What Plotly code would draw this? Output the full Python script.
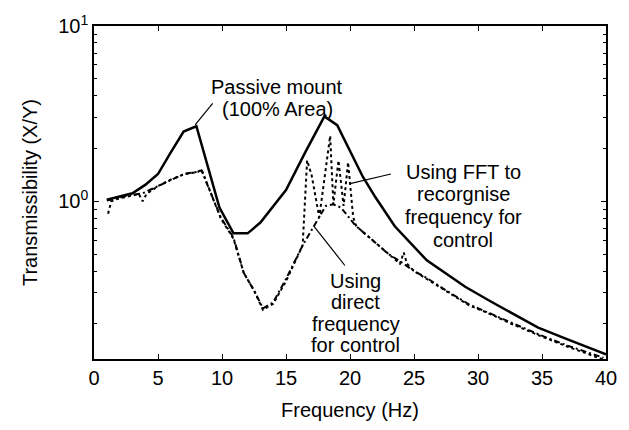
import plotly.graph_objects as go

# Passive mount (100% area) - solid
freq_passive = [1.0, 2.0, 3.0, 4.0, 5.0, 6.0, 7.0, 8.0, 9.8, 10.9, 12.0, 13.0, 14.0, 15.0,
                16.5, 18.0, 19.0, 20.0, 21.0, 22.0, 23.5, 26.0, 29.0, 31.0, 32.6, 34.7, 37.0, 40.0]
trans_passive = [1.02, 1.06, 1.11, 1.24, 1.43, 1.9, 2.5, 2.68, 0.92, 0.656, 0.656, 0.756, 0.93, 1.16,
                 1.9, 3.05, 2.72, 1.95, 1.38, 1.05, 0.72, 0.46, 0.325, 0.268, 0.23, 0.19, 0.163, 0.134]

# Using direct frequency for control - dash-dot
freq_direct = [1.0, 2.0, 3.0, 3.8, 5.0, 6.0, 7.1, 8.1, 8.4, 9.9, 10.9, 11.7, 12.5, 13.2, 14.0, 15.0,
               16.3, 17.2, 18.1, 18.7, 19.3, 20.4, 21.1, 22.0, 23.0, 24.0, 25.0, 26.0, 27.5, 29.3,
               31.1, 32.6, 34.9, 37.0, 39.8]
trans_direct = [1.01, 1.05, 1.09, 1.11, 1.22, 1.33, 1.44, 1.47, 1.50, 0.81, 0.62, 0.39, 0.31, 0.245,
                0.265, 0.36, 0.56, 0.725, 0.94, 0.96, 0.92, 0.73, 0.66, 0.58, 0.50, 0.45, 0.40, 0.365,
                0.31, 0.258, 0.226, 0.203, 0.172, 0.150, 0.128]

# Using FFT to recognise frequency for control - dotted
freq_fft = [1.1, 1.35, 1.8, 3.0, 3.5, 3.8, 4.1, 5.0, 6.0, 7.1, 8.1, 8.4, 9.9, 10.9, 11.7, 12.5, 13.2,
            14.0, 15.0, 16.3, 16.65, 17.0, 17.6, 18.45, 18.7, 19.1, 19.5, 19.85, 20.25, 20.5, 21.1,
            22.0, 23.0, 23.9, 24.2, 24.45, 25.0, 26.0, 27.5, 29.3, 31.1, 32.6, 34.9, 37.0, 39.8]
trans_fft = [0.85, 1.0, 1.03, 1.08, 1.10, 1.0, 1.10, 1.22, 1.33, 1.43, 1.47, 1.52, 0.80, 0.61, 0.39,
             0.31, 0.24, 0.26, 0.35, 0.56, 1.71, 1.41, 0.81, 2.36, 0.96, 1.71, 0.94, 1.67, 0.81, 0.72,
             0.66, 0.58, 0.50, 0.44, 0.51, 0.44, 0.40, 0.36, 0.31, 0.255, 0.225, 0.20, 0.17, 0.148, 0.125]

x_ticks = [0, 5, 10, 15, 20, 25, 30, 35, 40]
y_ticks = [1, 10]
y_ticktext = ["10<sup>0</sup>", "10<sup>1</sup>"]
y_minor = [0.2, 0.3, 0.4, 0.5, 0.6, 0.7, 0.8, 0.9, 2, 3, 4, 5, 6, 7, 8, 9]

# Annotation texts (one entry per printed line)
passive_label = ["Passive mount", "(100% Area)"]
fft_label = ["Using FFT to", "recorgnise", "frequency for", "control"]
direct_label = ["Using", "direct", "frequency", "for control"]

FONT = "Liberation Sans, Arial, sans-serif"

fig = go.Figure()
fig.add_trace(go.Scatter(x=freq_fft, y=trans_fft, mode="lines", hoverinfo="skip",
                         line=dict(color="black", width=2, dash="dot"), showlegend=False))
fig.add_trace(go.Scatter(x=freq_direct, y=trans_direct, mode="lines", hoverinfo="skip",
                         line=dict(color="black", width=2, dash="6px,3px,2px,3px"), showlegend=False))
fig.add_trace(go.Scatter(x=freq_passive, y=trans_passive, mode="lines", hoverinfo="skip",
                         line=dict(color="black", width=2.5), showlegend=False))


def label_block(lines, xc, y_top, ratio):
    y = y_top
    for s in lines:
        fig.add_annotation(x=xc, y=y, xref="x", yref="y", text=s, showarrow=False,
                           xanchor="center", yanchor="middle",
                           font=dict(family=FONT, size=20, color="black"))
        y = y * ratio
    # note: y for log axis annotations is log10 value


def leader(x0, y0, x1, y1):
    fig.add_trace(go.Scatter(x=[x0, x1], y=[y0, y1], mode="lines", hoverinfo="skip",
                             line=dict(color="black", width=1.2), showlegend=False))


import math
def block(lines, xc, first_val, step_px):
    ly = math.log10(first_val)
    for s in lines:
        fig.add_annotation(x=xc, y=ly, xref="x", yref="y", text=s, showarrow=False,
                           xanchor="center", yanchor="middle",
                           font=dict(family=FONT, size=20, color="black"))
        ly -= step_px / 179.0

block(passive_label, 14.3, 4.5, 22.5)
leader(9.27, 3.62, 7.9, 2.73)

block(fft_label, 28.85, 1.47, 23)
leader(23.2, 1.43, 20.0, 1.26)

block(direct_label, 20.45, 0.35, 21.7)
leader(19.6, 0.43, 17.16, 0.724)

fig.update_layout(
    width=629, height=430,
    margin=dict(l=94, r=13, t=21, b=69),
    paper_bgcolor="white", plot_bgcolor="white",
    font=dict(family=FONT, size=20, color="black"),
    showlegend=False,
)
fig.update_xaxes(range=[0, 40], tickvals=x_ticks, ticks="inside", ticklen=5, tickwidth=1,
                 tickcolor="black", showline=True, linecolor="black", linewidth=1.5,
                 mirror="ticks", showgrid=False, zeroline=False,
                 title=dict(text="Frequency (Hz)", font=dict(size=20)))
fig.update_yaxes(type="log", range=[-0.9, 1], tickvals=y_ticks, ticktext=y_ticktext,
                 ticks="inside", ticklen=5, tickwidth=1, tickcolor="black",
                 minor=dict(tickvals=y_minor, ticks="inside", ticklen=3, tickcolor="black", showgrid=False),
                 showline=True, linecolor="black", linewidth=1.5, mirror="ticks",
                 showgrid=False, zeroline=False,
                 title=dict(text="Transmissibility (X/Y)", font=dict(size=20)))

fig.write_html("out.html")
